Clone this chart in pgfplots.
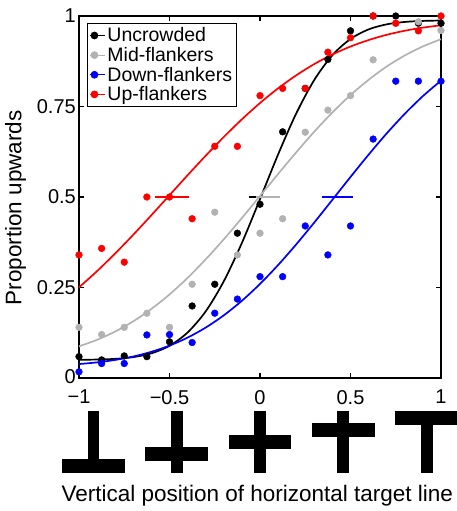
\documentclass[border=0pt]{standalone}
\usepackage{fontspec}
\setmainfont{Liberation Sans}
\usepackage{pgfplots}
\usepackage{pgfplotstable}
\pgfplotsset{compat=1.18}
\definecolor{midgray}{rgb}{0.7,0.7,0.7}

% observed proportions, one column per condition
\pgfplotstableread{
x      unc    mid    down   up
-1     0.059  0.14   0.017  0.34
-0.875 0.05   0.12   0.04   0.358
-0.75  0.061  0.14   0.04   0.32
-0.625 0.059  0.179  0.119  0.50
-0.5   0.10   0.14   0.12   0.50
-0.375 0.199  0.259  0.098  0.44
-0.25  0.259  0.458  0.179  0.64
-0.125 0.40   0.34   0.218  0.64
0      0.48   0.40   0.28   0.78
0.125  0.68   0.44   0.28   0.80
0.25   0.80   0.679  0.42   0.80
0.375  0.88   0.74   0.34   0.90
0.5    0.959  0.78   0.42   0.94
0.625  1.0    0.879  0.66   1.0
0.75   1.0    0.98   0.82   0.98
0.875  0.98   0.984  0.82   0.959
1      0.98   0.96   0.82   1.0
}\points

% fitted psychometric curves
\pgfplotstableread{
x    unc    mid    down   up
-1   0.0503 0.0875 0.0385 0.2504
-0.9 0.0510 0.1055 0.0432 0.2954
-0.8 0.0529 0.1284 0.0500 0.3441
-0.7 0.0577 0.1567 0.0594 0.3959
-0.6 0.0682 0.1908 0.0724 0.4498
-0.5 0.0889 0.2308 0.0895 0.5050
-0.4 0.1258 0.2766 0.1116 0.5602
-0.3 0.1841 0.3278 0.1393 0.6141
-0.2 0.2673 0.3832 0.1732 0.6659
-0.1 0.3732 0.4420 0.2134 0.7146
0    0.4941 0.5028 0.2599 0.7596
0.1  0.6176 0.5637 0.3121 0.8002
0.2  0.7307 0.6234 0.3691 0.8361
0.3  0.8235 0.6806 0.4297 0.8673
0.4  0.8918 0.7335 0.4924 0.8937
0.5  0.9366 0.7816 0.5554 0.9157
0.6  0.9630 0.8238 0.6170 0.9336
0.7  0.9770 0.8605 0.6757 0.9481
0.8  0.9836 0.8910 0.7299 0.9593
0.9  0.9864 0.9160 0.7787 0.9679
1    0.9875 0.9359 0.8215 0.9744
}\curves

\begin{document}
\begin{tikzpicture}
\begin{axis}[
    width=362pt, height=362pt, scale only axis,
    xmin=-1, xmax=1, ymin=0, ymax=1,
    xtick={-1,-0.5,0,0.5,1},
    xticklabels={−1,−0.5,0,0.5,1},
    ytick={0,0.25,0.5,0.75,1},
    yticklabels={\raisebox{2.5pt}{0},0.25,0.5,0.75,1},
    tick align=inside, major tick length=5pt,
    axis line style={line width=1.6pt},
    every tick/.style={black, line width=1.2pt},
    tick label style={font=\fontsize{20}{22}\selectfont, inner sep=1pt},
    xticklabel style={yshift=-11pt},
    yticklabel style={xshift=-2pt},
    label style={font=\fontsize{22.5}{25}\selectfont},
    xlabel={Vertical position of horizontal target line},
    ylabel={Proportion upwards},
    x label style={at={(axis description cs:-0.058,-0.342)}, anchor=base west},
    y label style={at={(axis description cs:-0.175,0.47)}, anchor=center},
    clip=false,
    legend style={at={(rel axis cs:0.0229,0.980)}, anchor=north west,
        draw=black, line width=0.9pt, font=\fontsize{19.5}{22}\selectfont,
        inner xsep=2pt, inner ysep=2pt, row sep=0pt},
    legend cell align=left,
    legend image code/.code={\path (0cm,0cm) -- (0.52cm,0cm);
        \draw[#1] plot coordinates {(0.15cm,0cm)};},
]
% fitted curves
\addplot[black, line width=1.7pt, smooth, forget plot] table[x=x, y=unc]{\curves};
\addplot[midgray, line width=1.7pt, smooth, forget plot] table[x=x, y=mid]{\curves};
\addplot[blue, line width=1.7pt, smooth, forget plot] table[x=x, y=down]{\curves};
\addplot[red, line width=1.7pt, smooth, forget plot] table[x=x, y=up]{\curves};
% 50% thresholds
\addplot[black, line width=1.7pt, forget plot] coordinates {(-0.06,0.5) (0.05,0.5)};
\addplot[midgray, line width=1.7pt, forget plot] coordinates {(-0.02,0.5) (0.11,0.5)};
\addplot[blue, line width=1.7pt, forget plot] coordinates {(0.341,0.5) (0.512,0.5)};
\addplot[red, line width=1.7pt, forget plot] coordinates {(-0.58,0.5) (-0.39,0.5)};
% data points
\addplot[only marks, mark=*, mark size=3.4pt, black] table[x=x, y=unc]{\points};
\addlegendentry{Uncrowded}
\addplot[only marks, mark=*, mark size=3.4pt, midgray] table[x=x, y=mid]{\points};
\addlegendentry{Mid-flankers}
\addplot[only marks, mark=*, mark size=3.4pt, blue] table[x=x, y=down]{\points};
\addlegendentry{Down-flankers}
\addplot[only marks, mark=*, mark size=3.4pt, red] table[x=x, y=up]{\points};
\addlegendentry{Up-flankers}

% target stimuli under the axis
\fill[black] (axis cs:-0.953,-0.0912) rectangle (axis cs:-0.887,-0.2616);
\fill[black] (axis cs:-1.093,-0.2236) rectangle (axis cs:-0.747,-0.2614);
\fill[black] (axis cs:-0.493,-0.0912) rectangle (axis cs:-0.427,-0.2616);
\fill[black] (axis cs:-0.633,-0.1905) rectangle (axis cs:-0.287,-0.2283);
\fill[black] (axis cs:-0.033,-0.0912) rectangle (axis cs:0.033,-0.2616);
\fill[black] (axis cs:-0.173,-0.1574) rectangle (axis cs:0.173,-0.1952);
\fill[black] (axis cs:0.427,-0.0912) rectangle (axis cs:0.493,-0.2616);
\fill[black] (axis cs:0.287,-0.1243) rectangle (axis cs:0.633,-0.1621);
\fill[black] (axis cs:0.887,-0.0912) rectangle (axis cs:0.953,-0.2616);
\fill[black] (axis cs:0.747,-0.0912) rectangle (axis cs:1.093,-0.1290);

\coordinate (bbl) at (axis cs:-1.4365,-0.3674);
\coordinate (btr) at (axis cs:1.0829,1.0442);
\end{axis}
\pgfresetboundingbox
\path[use as bounding box] (bbl) rectangle (btr);
\end{tikzpicture}
\end{document}
